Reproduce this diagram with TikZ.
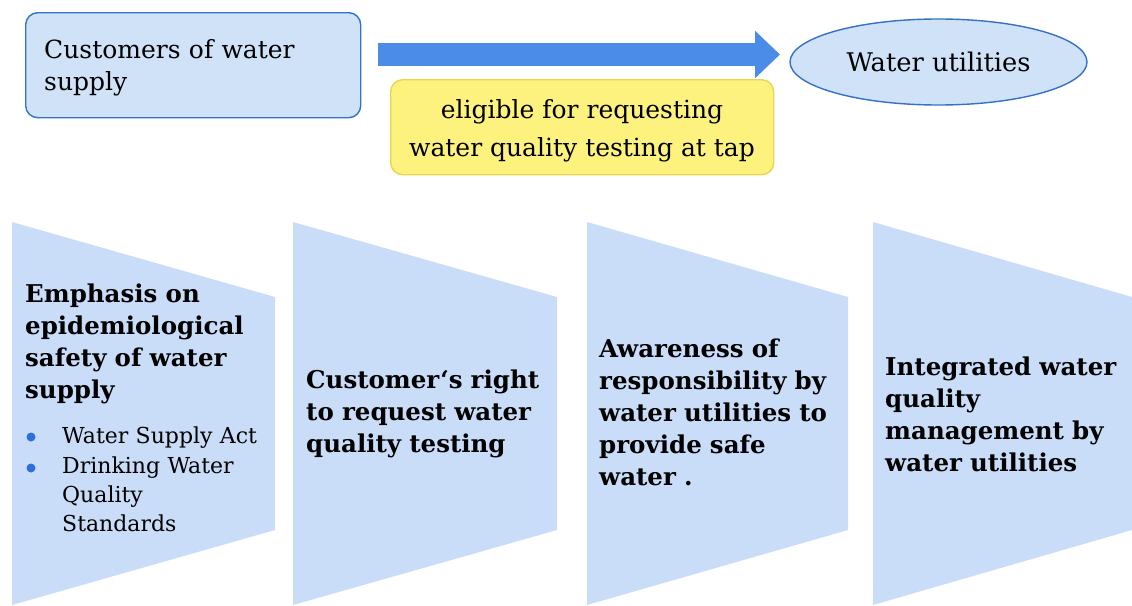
\documentclass[tikz,border=0pt]{standalone}
\usepackage{fontspec}
\setmainfont{DejaVu Serif}
\usetikzlibrary{arrows.meta,shapes.geometric}
\definecolor{boxfill}{HTML}{CFE2F8}
\definecolor{boxline}{HTML}{3572C6}
\definecolor{arrowblue}{HTML}{4A8CE8}
\definecolor{yfill}{HTML}{FDF27E}
\definecolor{yline}{HTML}{E9D54E}
\definecolor{panelfill}{HTML}{C9DDF8}
\definecolor{bul}{HTML}{2D6FD8}
\tikzset{
  panel/.style={fill=panelfill, draw=none},
  ptext/.style={anchor=base west, inner sep=0pt, align=left, text width=260pt,
    font=\fontsize{24.5}{32}\selectfont\bfseries},
  btext/.style={anchor=base west, inner sep=0pt, align=left, text width=250pt,
    font=\fontsize{22}{29.3}\selectfont},
  bulletdot/.style={circle, fill=bul, inner sep=0pt, minimum size=9pt},
}
\begin{document}
\begin{tikzpicture}[x=1pt,y=-1pt]
\useasboundingbox (0,0) rectangle (1132,605);
% top row
\node[draw=boxline, line width=1.4pt, fill=boxfill, rounded corners=12pt,
  minimum width=335pt, minimum height=105pt, anchor=north west, inner sep=0pt] (cust) at (25,12) {};
\node[anchor=base west, inner sep=0pt, align=left, text width=300pt, font=\fontsize{25}{32}\selectfont] (custt) at (44,58)
  {Customers of water\\supply};
\node[draw=boxline, line width=1.4pt, fill=boxfill, ellipse, minimum width=297pt, minimum height=86pt,
  inner sep=0pt, font=\fontsize{25.7}{30}\selectfont] (util) at (938.5,62) {Water utilities};
\coordinate (as) at (378,54.5);
\coordinate (ae) at (780,54.5);
\draw[arrowblue, line width=23pt, -{Triangle[length=25pt,width=46pt]}] (as) -- (ae);
\node[draw=yline, line width=1.4pt, fill=yfill, rounded corners=12pt, minimum width=383pt,
  minimum height=95pt, anchor=north west, inner sep=0pt] (elig) at (390,79) {};
\node[inner sep=0pt, align=center, font=\fontsize{25}{38}\selectfont] (eligt) at (582,131)
  {eligible for requesting\\water quality testing at tap};
% panels
\path[panel] (12,222) -- (275,297) -- (275,530) -- (12,605) -- cycle;
\path[panel] (293,222) -- (557,297) -- (557,530) -- (293,605) -- cycle;
\path[panel] (587,222) -- (848,297) -- (848,530) -- (587,605) -- cycle;
\path[panel] (873,222) -- (1132,297) -- (1132,530) -- (873,605) -- cycle;
% panel texts
\node[ptext] (p1) at (25,302) {Emphasis on\\epidemiological\\safety of water\\supply};
\node[bulletdot] (b1) at (31,437) {};
\node[bulletdot] (b2) at (31,468) {};
\node[btext] (p1b) at (62,443) {Water Supply Act\\[0.7pt]
  Drinking Water\\Quality\\Standards};
\node[ptext] (p2) at (306,388) {Customer‘s right\\to request water\\quality testing};
\node[ptext] (p3) at (599,357) {Awareness of\\responsibility by\\water utilities to\\provide safe\\water .};
\node[ptext] (p4) at (885,375) {Integrated water\\quality\\management by\\water utilities};
\end{tikzpicture}
\end{document}
